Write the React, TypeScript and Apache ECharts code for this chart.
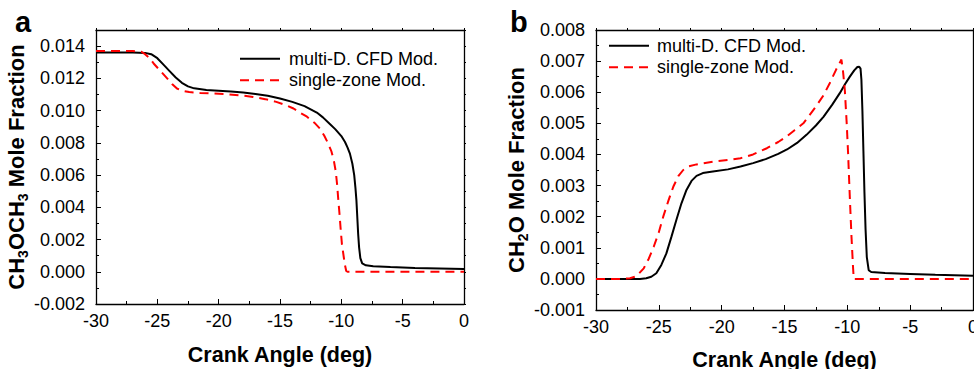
import React, { useEffect, useRef } from "react";
import * as echarts from "echarts";

// ---------- data ----------
const seriesNames = ["multi-D. CFD Mod.", "single-zone Mod."];
const panelLabels = ["a", "b"];
const xTitle = "Crank Angle (deg)";

// Panel a: CH3OCH3 mole fraction vs crank angle
const aCfd: [number, number][] = [
  [-30, 0.0136], [-27, 0.0136], [-26, 0.01358], [-25.5, 0.0135], [-25, 0.01325],
  [-24.5, 0.01285], [-24, 0.01245], [-23.5, 0.01205], [-23, 0.01172], [-22.5, 0.0115],
  [-22, 0.01138], [-21, 0.01128], [-20, 0.01123], [-19, 0.01118], [-18, 0.01112],
  [-17, 0.01103], [-16, 0.01092], [-15, 0.01075], [-14, 0.01054], [-13, 0.01028],
  [-12, 0.00988], [-11.5, 0.00958], [-11, 0.00922], [-10.5, 0.00885], [-10, 0.00842],
  [-9.7, 0.00805], [-9.5, 0.00772], [-9.3, 0.00733], [-9.1, 0.0067], [-8.95, 0.006],
  [-8.85, 0.0052], [-8.77, 0.00443], [-8.7, 0.0034], [-8.63, 0.00237], [-8.55, 0.0015],
  [-8.45, 0.00085], [-8.3, 0.00052], [-8.0, 0.0004], [-7.4, 0.00034], [-6, 0.00029],
  [-4, 0.00023], [-2, 0.0002], [0, 0.00017],
];
const aSingle: [number, number][] = [
  [-30, 0.0137], [-27, 0.0137], [-26.3, 0.01365], [-26, 0.0135], [-25.6, 0.01324],
  [-25.3, 0.01292], [-24.8, 0.0125], [-24.2, 0.012], [-23.8, 0.01165], [-23.4, 0.01137],
  [-23, 0.01124], [-22.4, 0.01115], [-21.5, 0.01109], [-20.5, 0.01106], [-19.4, 0.01102],
  [-18.3, 0.01095], [-17.2, 0.01085], [-16.2, 0.01071], [-15.3, 0.01054], [-14.5, 0.01033],
  [-13.9, 0.01013], [-13.4, 0.00988], [-12.8, 0.00962], [-12.2, 0.00925], [-11.75, 0.00889],
  [-11.4, 0.00845], [-11.1, 0.008], [-10.8, 0.00745], [-10.6, 0.00685], [-10.45, 0.0062],
  [-10.35, 0.00545], [-10.25, 0.0045], [-10.15, 0.0036], [-10.05, 0.0026], [-9.95, 0.0017],
  [-9.8, 0.0009], [-9.7, 0.0004], [-9.6, 0.00005], [-9.5, 0.0], [0, 0.0],
];

// Panel b: CH2O mole fraction vs crank angle
const bCfd: [number, number][] = [
  [-30, 0.0], [-26.5, 0.0], [-26, 0.00002], [-25.6, 0.00007], [-25.2, 0.00018],
  [-24.8, 0.00045], [-24.4, 0.00082], [-24.0, 0.00135], [-23.6, 0.0019], [-23.2, 0.00243],
  [-22.8, 0.00286], [-22.4, 0.00315], [-22.0, 0.00331], [-21.5, 0.0034], [-20.7, 0.00345],
  [-19.5, 0.00352], [-18.5, 0.00361], [-17.5, 0.00372], [-16.5, 0.00385], [-15.5, 0.00402],
  [-14.8, 0.00416], [-14, 0.00437], [-13.25, 0.00463], [-12.5, 0.00493], [-11.9, 0.00521],
  [-11.2, 0.0056], [-10.6, 0.00597], [-10.2, 0.00625], [-9.8, 0.0065], [-9.45, 0.0067],
  [-9.2, 0.00681], [-9.05, 0.00682], [-8.95, 0.00676], [-8.88, 0.0064], [-8.8, 0.0054],
  [-8.72, 0.0041], [-8.64, 0.0028], [-8.55, 0.0016], [-8.45, 0.0007], [-8.3, 0.00028],
  [-8.1, 0.00022], [-7, 0.00019], [-5, 0.00016], [-3, 0.00013], [0, 0.0001],
];
const bSingle: [number, number][] = [
  [-30, 0.0], [-28, 0.0], [-27.3, 0.00002], [-26.8, 0.00008], [-26.2, 0.00034],
  [-25.8, 0.00065], [-25.4, 0.00104], [-25.0, 0.0015], [-24.65, 0.002], [-24.25, 0.0025],
  [-23.85, 0.00296], [-23.45, 0.0033], [-23.06, 0.0035], [-22.6, 0.00362], [-22.0, 0.00368],
  [-20.7, 0.00377], [-19.5, 0.00382], [-18.5, 0.00388], [-17.5, 0.004], [-16.4, 0.0042],
  [-15.5, 0.0044], [-14.85, 0.00457], [-14.2, 0.00478], [-13.5, 0.005], [-12.5, 0.00554],
  [-11.9, 0.0059], [-11.4, 0.00629], [-10.9, 0.00672], [-10.6, 0.00695], [-10.47, 0.00705],
  [-10.35, 0.0067], [-10.2, 0.00607], [-10.05, 0.005], [-9.94, 0.00404], [-9.8, 0.0026],
  [-9.67, 0.00136], [-9.55, 0.0004], [-9.49, 0.0], [0, 0.0],
];

// axis ranges
const xRange = { min: -30, max: 0, interval: 5 };
const aYRange = { min: -0.002, max: 0.015, interval: 0.002 };
const bYRange = { min: -0.001, max: 0.008, interval: 0.001 };

const FONT = "'Liberation Sans', Arial, Helvetica, sans-serif";

function buildOption() {
  const axisLineStyle = { color: "#000", width: 1.3 };
  const tickLine = { color: "#000", width: 1 };

  const makeX = (gridIndex: number, gap: number) => {
    const common: any = {
      type: "value",
      gridIndex,
      ...xRange,
      splitLine: { show: false },
      axisLine: { show: true, onZero: false, lineStyle: axisLineStyle },
    };
    return [
      {
        ...common,
        position: "bottom",
        axisTick: { show: true, inside: true, length: 5, lineStyle: tickLine },
        minorTick: { show: true, splitNumber: 2, length: 3, lineStyle: tickLine },
        axisLabel: {
          show: true,
          margin: 8,
          fontSize: 18,
          fontFamily: FONT,
          color: "#000",
          formatter: (v: number) => String(Math.round(v)),
        },
        name: xTitle,
        nameLocation: "middle",
        nameGap: gap,
        nameTextStyle: { fontSize: 21.5, fontWeight: "bold", fontFamily: FONT, color: "#000" },
      },
      {
        ...common,
        position: "top",
        axisTick: { show: true, inside: false, length: 2, lineStyle: tickLine },
        minorTick: { show: true, splitNumber: 2, length: 2, lineStyle: tickLine },
        axisLabel: { show: false },
      },
    ];
  };

  const makeY = (gridIndex: number, range: any, name: string, gap: number) => {
    const common: any = {
      type: "value",
      gridIndex,
      ...range,
      splitLine: { show: false },
      axisLine: { show: true, onZero: false, lineStyle: axisLineStyle },
    };
    return [
      {
        ...common,
        position: "left",
        axisTick: { show: true, inside: true, length: 5, lineStyle: tickLine },
        minorTick: { show: true, splitNumber: 2, length: 3, lineStyle: tickLine },
        axisLabel: {
          show: true,
          margin: 11,
          fontSize: 18,
          fontFamily: FONT,
          color: "#000",
          showMaxLabel: range.max === 0.015 ? false : true,
          formatter: (v: number) => v.toFixed(3),
        },
        name,
        nameLocation: "middle",
        nameRotate: 90,
        nameGap: gap,
        nameTextStyle: {
          rich: {
            n: { fontSize: 22, fontWeight: "bold", fontFamily: FONT, color: "#000", lineHeight: 28 },
            s: {
              fontSize: 14,
              fontWeight: "bold",
              fontFamily: FONT,
              color: "#000",
              lineHeight: 14,
              verticalAlign: "bottom",
            },
          },
        },
      },
      {
        ...common,
        position: "right",
        axisTick: { show: true, inside: false, length: 2, lineStyle: tickLine },
        minorTick: { show: true, splitNumber: 2, length: 2, lineStyle: tickLine },
        axisLabel: { show: false },
      },
    ];
  };

  const solid = { color: "#000", width: 2 };
  const dashed = { color: "#ff0000", width: 2, type: [9, 6] as any };

  const mkSeries = (name: string, data: [number, number][], xi: number, yi: number, ls: any) => ({
    name,
    type: "line",
    xAxisIndex: xi,
    yAxisIndex: yi,
    data,
    symbol: "none",
    showSymbol: false,
    lineStyle: ls,
    itemStyle: { color: ls.color },
    emphasis: { disabled: true },
  });

  const legendCommon: any = {
    data: seriesNames,
    orient: "vertical",
    itemHeight: 14,
    itemGap: 0,
    padding: 0,
    selectedMode: false,
    itemStyle: { opacity: 0, color: "transparent", borderWidth: 0 },
    textStyle: { fontSize: 18, fontFamily: FONT, color: "#000", lineHeight: 21.5 },
  };

  return {
    animation: false,
    backgroundColor: "#fff",
    grid: [
      { left: 96, top: 30, width: 368, height: 274, containLabel: false, outerBoundsMode: "none" },
      { left: 596, top: 30, width: 377, height: 280, containLabel: false, outerBoundsMode: "none" },
    ],
    xAxis: [...makeX(0, 39.5), ...makeX(1, 38.5)],
    yAxis: [
      ...makeY(0, aYRange, "{n|CH}{s|3}{n|OCH}{s|3}{n| Mole Fraction}", 63.5),
      ...makeY(1, bYRange, "{n|CH}{s|2}{n|O Mole Fraction}", 65.5),
    ],
    legend: [
      {
        ...legendCommon,
        left: 239,
        top: 48,
        itemWidth: 40,
        textStyle: { ...legendCommon.textStyle, padding: [0, 0, 0, 4] },
      },
      {
        ...legendCommon,
        left: 608,
        top: 35,
        itemWidth: 40,
        textStyle: { ...legendCommon.textStyle, padding: [0, 0, 0, 3] },
      },
    ],
    series: [
      mkSeries(seriesNames[0], aCfd, 0, 0, solid),
      mkSeries(seriesNames[1], aSingle, 0, 0, dashed),
      mkSeries(seriesNames[0], bCfd, 2, 2, solid),
      mkSeries(seriesNames[1], bSingle, 2, 2, dashed),
    ],
    graphic: [
      {
        type: "text",
        style: {
          x: 15,
          y: 22,
          text: panelLabels[0],
          font: `bold 29px ${FONT}`,
          fill: "#000",
          verticalAlign: "middle",
        },
      },
      {
        type: "text",
        style: {
          x: 510,
          y: 22,
          text: panelLabels[1],
          font: `bold 29px ${FONT}`,
          fill: "#000",
          verticalAlign: "middle",
        },
      },
    ],
  };
}

export default function App() {
  const ref = useRef<HTMLDivElement>(null);
  useEffect(() => {
    document.body.style.margin = "0";
    const chart = echarts.init(ref.current!, null, { renderer: "svg" });
    chart.setOption(buildOption() as any);
    return () => chart.dispose();
  }, []);
  return (
    <div
      ref={ref}
      style={{ position: "absolute", left: 0, top: 0, width: 974, height: 369, background: "#fff" }}
    />
  );
}
